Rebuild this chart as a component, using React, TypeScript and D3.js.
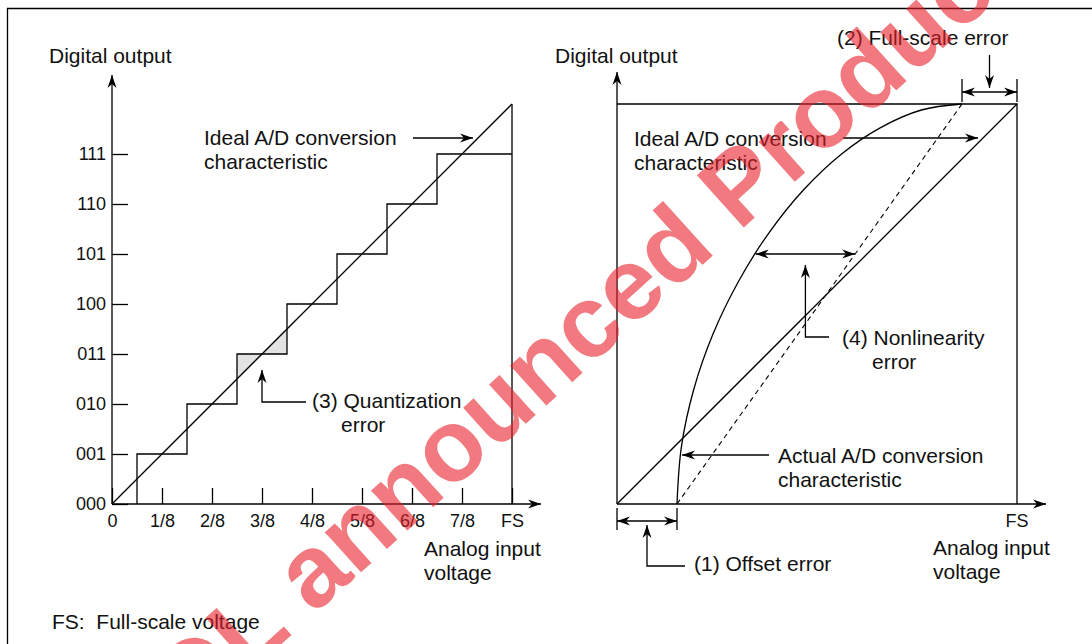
import React, { useRef, useEffect } from 'react';
import * as d3 from 'd3';

// left panel: 3-bit codes and input fractions
const codes = ['000', '001', '010', '011', '100', '101', '110', '111'];
const inputLabels = ['0', '1/8', '2/8', '3/8', '4/8', '5/8', '6/8', '7/8', 'FS'];
const transitions = [0.5, 1.5, 2.5, 3.5, 4.5, 5.5, 6.5]; // in LSB, code i -> i+1
const idealLeft = [[0, 0], [8, 8]];
const shadedCode = 3;

// right panel: fractions of full scale
const idealRight = [[0, 0], [1, 1]];
const offsetError = 0.15;
const fullScaleEnd = 0.8625;
const actualCurve = [
  [0.15, 0], [0.161, 0.143], [0.192, 0.287], [0.24, 0.425], [0.304, 0.557],
  [0.38, 0.678], [0.466, 0.785], [0.56, 0.874], [0.659, 0.941], [0.761, 0.985], [0.8625, 1],
];
const nonlinLevel = 0.625;

const FONT = '"Liberation Sans", Arial, sans-serif';

const App = () => {
  const axesRef = useRef<SVGGElement>(null);

  const xL = d3.scaleLinear().domain([0, 8]).range([112, 512]);
  const yL = d3.scaleLinear().domain([0, 8]).range([504, 104]);
  const xR = d3.scaleLinear().domain([0, 1]).range([617, 1017]);
  const yR = d3.scaleLinear().domain([0, 1]).range([504, 104]);

  const lineL = d3.line<number[]>().x(d => xL(d[0])).y(d => yL(d[1]));
  const lineR = d3.line<number[]>().x(d => xR(d[0])).y(d => yR(d[1]));

  const steps = [...transitions.map((t, i) => [t, i]), [8, 7]];
  const stairPath = d3.line<number[]>().x(d => xL(d[0])).y(d => yL(d[1])).curve(d3.curveStepBefore)(steps);

  const t0 = transitions[shadedCode - 1];
  const t1 = transitions[shadedCode];
  const shade = lineL([[t0, t0], [t0, shadedCode], [t1, shadedCode], [t1, t1]]) + 'Z';

  const curvePath = d3.line<number[]>().x(d => xR(d[0])).y(d => yR(d[1]))
    .curve(d3.curveCatmullRom.alpha(0.5))(actualCurve);

  // nonlinearity arrow ends
  const bis = d3.bisector((d: number[]) => d[1]).left;
  const k = bis(actualCurve, nonlinLevel);
  const a = actualCurve[k - 1], b = actualCurve[k];
  const curveX = a[0] + (b[0] - a[0]) * (nonlinLevel - a[1]) / (b[1] - a[1]);
  const dashX = offsetError + (fullScaleEnd - offsetError) * nonlinLevel;

  useEffect(() => {
    const g = d3.select(axesRef.current);
    g.select<SVGGElement>('.y-left')
      .call(d3.axisLeft(yL).tickValues(codes.map((_, i) => i)).tickSize(-16).tickSizeOuter(0).tickPadding(6)
        .tickFormat(i => codes[i as number]))
      .call(s => s.select('.domain').remove());
    g.select<SVGGElement>('.x-left')
      .call(d3.axisBottom(xL).tickValues(inputLabels.map((_, i) => i)).tickSize(-16).tickSizeOuter(0).tickPadding(10)
        .tickFormat(i => inputLabels[i as number]))
      .call(s => s.select('.domain').remove());
    g.selectAll('.tick line').attr('stroke', '#000').attr('stroke-width', 1.3);
    g.selectAll('.tick text').attr('font-family', FONT).attr('font-size', 18).attr('fill', '#111');
  }, []);

  const stroke = { stroke: '#000', strokeWidth: 1.3, fill: 'none' };
  const txt = { fontFamily: FONT, fontSize: 21, fill: '#111' };

  return (
    <svg width={1092} height={644} style={{ position: 'absolute', left: 0, top: 0, background: '#fff' }}>
      <defs>
        <marker id="ah" viewBox="-14 -5 16 10" refX={0} refY={0} markerWidth={16} markerHeight={10}
          markerUnits="userSpaceOnUse" orient="auto-start-reverse">
          <path d="M0,0 L-13,-4.5 L-9,0 L-13,4.5 Z" fill="#000" />
        </marker>
      </defs>

      <path d="M7.5,644 V8.5 H1092" {...stroke} />

      {/* left panel */}
      <path d={shade} fill="#e3e3e3" />
      <g ref={axesRef}>
        <g className="y-left" transform={`translate(${xL(0)},0)`} />
        <g className="x-left" transform={`translate(0,${yL(0)})`} />
      </g>
      <line x1={xL(0)} y1={yL(0)} x2={xL(0)} y2={75} {...stroke} markerEnd="url(#ah)" />
      <line x1={xL(0)} y1={yL(0)} x2={541} y2={yL(0)} {...stroke} markerEnd="url(#ah)" />
      <path d={lineL(idealLeft) || ''} {...stroke} />
      <path d={stairPath || ''} {...stroke} />
      <line x1={xL(8)} y1={yL(0)} x2={xL(8)} y2={yL(8)} {...stroke} />

      <text x={49} y={63} {...txt}>Digital output</text>
      <text x={204} y={145} {...txt}>Ideal A/D conversion</text>
      <text x={204} y={169} {...txt}>characteristic</text>
      <line x1={413} y1={138} x2={473} y2={138} {...stroke} markerEnd="url(#ah)" />
      <path d={`M306,402 H${xL(3)} V370`} {...stroke} markerEnd="url(#ah)" />
      <text x={312} y={408} {...txt}>(3) Quantization</text>
      <text x={341} y={432} {...txt}>error</text>
      <text x={424} y={556} {...txt}>Analog input</text>
      <text x={424} y={580} {...txt}>voltage</text>

      {/* right panel */}
      <line x1={xR(0)} y1={yR(0)} x2={xR(0)} y2={72} {...stroke} markerEnd="url(#ah)" />
      <line x1={xR(0)} y1={yR(0)} x2={1046} y2={yR(0)} {...stroke} markerEnd="url(#ah)" />
      <path d={lineR([[0, 1], [1, 1], [1, 0]]) || ''} {...stroke} />
      <path d={lineR(idealRight) || ''} {...stroke} />
      <path d={lineR([[offsetError, 0], [fullScaleEnd, 1]]) || ''} {...stroke} strokeWidth={1.1} strokeDasharray="5,4" />
      <path d={curvePath || ''} {...stroke} />

      {/* offset error */}
      <line x1={xR(0)} y1={508} x2={xR(0)} y2={530} {...stroke} />
      <line x1={xR(offsetError)} y1={508} x2={xR(offsetError)} y2={530} {...stroke} />
      <line x1={xR(0)} y1={521} x2={xR(offsetError)} y2={521} {...stroke} markerStart="url(#ah)" markerEnd="url(#ah)" />
      <path d={`M685,566 H${(xR(0) + xR(offsetError)) / 2} V525`} {...stroke} markerEnd="url(#ah)" />
      <text x={694} y={571} {...txt}>(1) Offset error</text>

      {/* full-scale error */}
      <line x1={xR(fullScaleEnd)} y1={79} x2={xR(fullScaleEnd)} y2={102} {...stroke} />
      <line x1={xR(1)} y1={79} x2={xR(1)} y2={102} {...stroke} />
      <line x1={xR(fullScaleEnd)} y1={92} x2={xR(1)} y2={92} {...stroke} markerStart="url(#ah)" markerEnd="url(#ah)" />
      <line x1={(xR(fullScaleEnd) + xR(1)) / 2} y1={55} x2={(xR(fullScaleEnd) + xR(1)) / 2} y2={88} {...stroke} markerEnd="url(#ah)" />
      <text x={837} y={45} {...txt}>(2) Full-scale error</text>

      {/* nonlinearity */}
      <line x1={xR(curveX)} y1={yR(nonlinLevel)} x2={xR(dashX)} y2={yR(nonlinLevel)} {...stroke} markerStart="url(#ah)" markerEnd="url(#ah)" />
      <path d={`M829,337 H${(xR(curveX) + xR(dashX)) / 2} V265`} {...stroke} markerEnd="url(#ah)" />
      <text x={842} y={345} {...txt}>(4) Nonlinearity</text>
      <text x={872} y={369} {...txt}>error</text>

      <text x={555} y={63} {...txt}>Digital output</text>
      <text x={634} y={146} {...txt}>Ideal A/D conversion</text>
      <text x={634} y={170} {...txt}>characteristic</text>
      <line x1={843} y1={138} x2={978} y2={138} {...stroke} markerEnd="url(#ah)" />
      <text x={778} y={463} {...txt}>Actual A/D conversion</text>
      <text x={778} y={487} {...txt}>characteristic</text>
      <line x1={769} y1={455} x2={682} y2={455} {...stroke} markerEnd="url(#ah)" />
      <text x={xR(1)} y={527} {...txt} fontSize={18} textAnchor="middle">FS</text>
      <text x={933} y={555} {...txt}>Analog input</text>
      <text x={933} y={579} {...txt}>voltage</text>

      <text x={52} y={629} {...txt} style={{ whiteSpace: 'pre' }}>FS:  Full-scale voltage</text>

      {/* watermark */}
      <text x={0} y={0} transform="translate(138,773) rotate(-42)" fontFamily={FONT} fontWeight="bold" fontSize={102}
        fill="#e8202a" fillOpacity={0.6}>EOL announced Product</text>
    </svg>
  );
};

export default App;
